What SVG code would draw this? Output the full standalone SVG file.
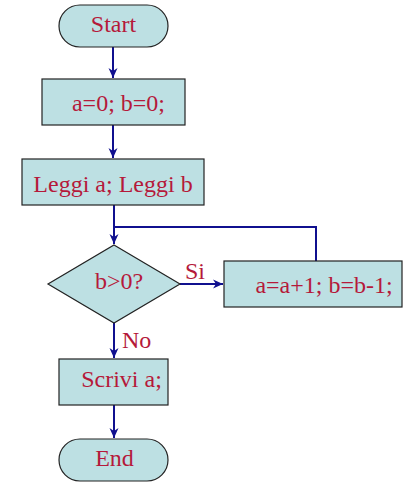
<svg xmlns="http://www.w3.org/2000/svg" width="403" height="482" viewBox="0 0 403 482">
<style>
.n{fill:#bde0e3;stroke:#222;stroke-width:1.2}
.t{font-family:"Liberation Serif","Times New Roman",serif;font-size:24px;fill:#b5193a}
.c{fill:none;stroke:#10108f;stroke-width:2}
</style>
<defs>
<marker id="ah" markerUnits="userSpaceOnUse" markerWidth="12" markerHeight="12" viewBox="0 0 12 12" refX="11" refY="6" orient="auto">
<path d="M1,1.5 L11,6 L1,10.5 L4,6 Z" fill="#10108f"/>
</marker>
</defs>
<g id="connectors">
<line class="c" x1="113" y1="47" x2="113" y2="78" marker-end="url(#ah)"/>
<line class="c" x1="113" y1="125" x2="113" y2="158" marker-end="url(#ah)"/>
<polyline class="c" points="114,205 114,244" marker-end="url(#ah)"/>
<polyline class="c" points="316,261 316,227 114,227"/>
<line class="c" x1="180" y1="284" x2="223" y2="284" marker-end="url(#ah)"/>
<line class="c" x1="114" y1="323" x2="114" y2="358" marker-end="url(#ah)"/>
<line class="c" x1="114" y1="405" x2="114" y2="438" marker-end="url(#ah)"/>
<text class="t" x="185" y="279">Si</text>
<text class="t" x="122" y="348">No</text>
</g>
<g id="start">
<rect class="n" x="59" y="5" width="109" height="42" rx="21" ry="21"/>
<text class="t" x="113.5" y="32" text-anchor="middle">Start</text>
</g>
<g id="init">
<rect class="n" x="42" y="79" width="143" height="46"/>
<text class="t" x="118.5" y="111" text-anchor="middle">a=0; b=0;</text>
</g>
<g id="read">
<rect class="n" x="22" y="159" width="182" height="46"/>
<text class="t" x="113" y="192" text-anchor="middle">Leggi a; Leggi b</text>
</g>
<g id="cond">
<polygon class="n" points="114,245 180,284 114,323 48,284"/>
<text class="t" x="119" y="289" text-anchor="middle">b&gt;0?</text>
</g>
<g id="loop">
<rect class="n" x="224" y="261" width="178" height="46"/>
<text class="t" x="324" y="293" text-anchor="middle">a=a+1; b=b-1;</text>
</g>
<g id="write">
<rect class="n" x="59" y="359" width="109" height="46"/>
<text class="t" x="121.5" y="387" text-anchor="middle">Scrivi a;</text>
</g>
<g id="end">
<rect class="n" x="59" y="439" width="109" height="42" rx="21" ry="21"/>
<text class="t" x="114.5" y="466" text-anchor="middle">End</text>
</g>
</svg>
